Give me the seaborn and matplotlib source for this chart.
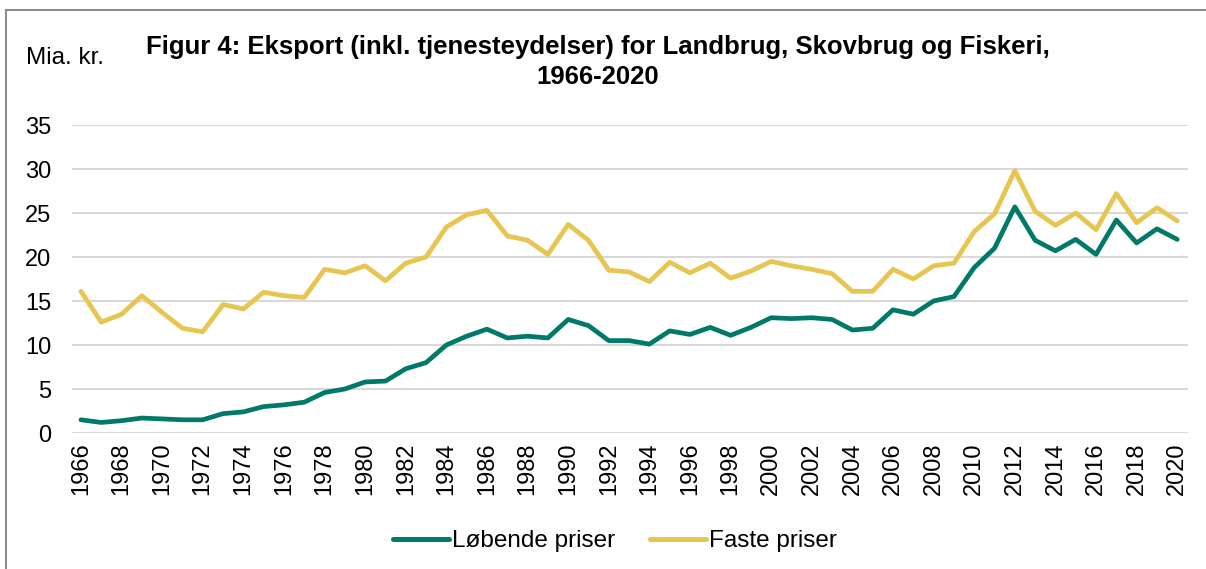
import matplotlib
matplotlib.use("Agg")
import matplotlib.pyplot as plt
import seaborn as sns
import pandas as pd
from matplotlib.lines import Line2D

years = list(range(1966, 2021))
lobende = [1.5, 1.2, 1.4, 1.7, 1.6, 1.5, 1.5, 2.2, 2.4, 3.0, 3.2, 3.5, 4.6, 5.0, 5.8, 5.9, 7.3, 8.0, 10.0,
           11.0, 11.8, 10.8, 11.0, 10.8, 12.9, 12.2, 10.5, 10.5, 10.1, 11.6, 11.2, 12.0, 11.1, 12.0,
           13.1, 13.0, 13.1, 12.9, 11.7, 11.9, 14.0, 13.5, 15.0, 15.5, 18.8, 21.0, 25.7, 21.9, 20.7,
           22.0, 20.3, 24.2, 21.6, 23.2, 22.0]
faste = [16.1, 12.6, 13.5, 15.6, 13.7, 11.9, 11.5, 14.6, 14.1, 16.0, 15.6, 15.4, 18.6, 18.2, 19.0, 17.3,
         19.3, 20.0, 23.4, 24.8, 25.3, 22.4, 21.9, 20.3, 23.7, 21.9, 18.5, 18.3, 17.2, 19.4, 18.2,
         19.3, 17.6, 18.4, 19.5, 19.0, 18.6, 18.1, 16.1, 16.1, 18.6, 17.5, 19.0, 19.3, 22.9, 24.9,
         29.8, 25.2, 23.6, 25.0, 23.1, 27.2, 23.9, 25.6, 24.1]
series_names = ["Løbende priser", "Faste priser"]
colors = ["#007A68", "#E6C550"]
yticks = [0, 5, 10, 15, 20, 25, 30, 35]

df = pd.DataFrame({
    "year": years * 2,
    "value": lobende + faste,
    "series": [series_names[0]] * len(years) + [series_names[1]] * len(years),
})

sns.set_style("white")
plt.rcParams["font.family"] = ["Liberation Sans", "DejaVu Sans"]
plt.rcParams["text.color"] = "black"

W, H = 1206, 569
fig = plt.figure(figsize=(W / 100, H / 100), dpi=100)
ax = fig.add_axes([72 / W, 1 - 433 / H, (1188 - 72) / W, (433 - 125) / H])

sns.lineplot(data=df, x="year", y="value", hue="series", palette=colors,
             linewidth=3.4, ax=ax, legend=False, solid_capstyle="round")

ax.set_ylim(0, 35)
ax.set_xlim(1965.56, 2020.53)
ax.set_yticks(yticks)
ax.set_yticklabels([str(t) for t in yticks], fontsize=17, color="#000000")
ax.set_xticks(years[::2])
ax.set_xticklabels([str(y) for y in years[::2]], rotation=90, fontsize=17, color="#000000")
ax.tick_params(axis="y", length=0, pad=15)
ax.tick_params(axis="x", length=0, pad=7)
ax.grid(axis="y", color="#D9D9D9", linewidth=1.5)
ax.set_axisbelow(True)
for s in ax.spines.values():
    s.set_visible(False)
ax.set_xlabel("")
ax.set_ylabel("")

fig.text(598 / W, 1 - 62 / H, "Figur 4: Eksport (inkl. tjenesteydelser) for Landbrug, Skovbrug og Fiskeri,\n1966-2020",
         ha="center", va="center", fontsize=18.5, fontweight="bold", linespacing=1.3, color="black")
fig.text(26 / W, 1 - 58 / H, "Mia. kr.", ha="left", va="center", fontsize=17.5, color="black")

handles = [Line2D([0], [0], color=c, linewidth=3.6, solid_capstyle="round") for c in colors]
leg = fig.legend(handles, series_names, loc="center", bbox_to_anchor=(615 / W, 1 - 541 / H), ncol=2,
                 frameon=False, fontsize=17.5, handlelength=2.3, handletextpad=0.15, columnspacing=1.4)
for t in leg.get_texts():
    t.set_color("black")

# outer frame (left and top edges)
fig.add_artist(Line2D([6 / W, 6 / W], [0, 1 - 10 / H], color="#8C8C8C", linewidth=1.5))
fig.add_artist(Line2D([6 / W, 1], [1 - 10 / H, 1 - 10 / H], color="#8C8C8C", linewidth=1.5))

fig.savefig("out.png", dpi=100, facecolor="white")
